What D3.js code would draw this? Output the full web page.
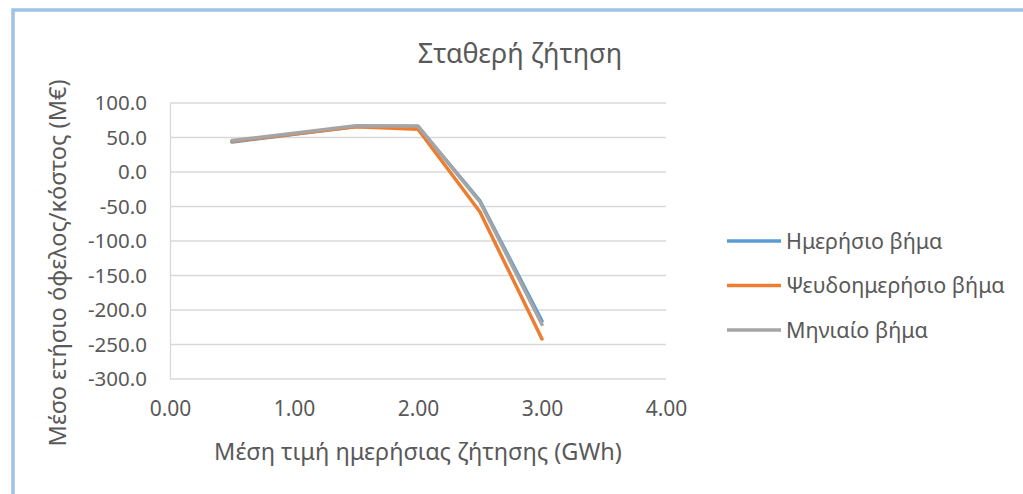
<!DOCTYPE html>
<html>
<head>
<meta charset="utf-8">
<script src="https://cdn.jsdelivr.net/npm/d3@7"></script>
<style>
  html, body { margin: 0; padding: 0; background: #fff; }
  svg { display: block; }
  text { font-family: "Noto Sans", "Open Sans", sans-serif; fill: #595959; }
</style>
</head>
<body>
<svg id="chart" width="1023" height="494"></svg>
<script>
// Average daily demand (GWh) at which each scenario was evaluated
const demand = [0.5, 1.5, 2.0, 2.5, 3.0];

// Mean annual benefit / cost (M€) per time-step scheme
const dailyStep = [43.5, 66, 66, -42, -216];
const pseudoDailyStep = [44.5, 65.5, 62, -58, -242];
const monthlyStep = [45.5, 67, 66.5, -43.5, -221];

const seriesNames = ["Ημερήσιο βήμα", "Ψευδοημερήσιο βήμα", "Μηνιαίο βήμα"];
const seriesColors = ["#5b9bd5", "#ed7d31", "#a5a5a5"];

const yTicks = [100, 50, 0, -50, -100, -150, -200, -250, -300];
const xTicks = [0, 1, 2, 3, 4];

const chartTitle = "Σταθερή ζήτηση";
const xTitle = "Μέση τιμή ημερήσιας ζήτησης (GWh)";
const yTitle = "Μέσο ετήσιο όφελος/κόστος (Μ€)";

const series = [dailyStep, pseudoDailyStep, monthlyStep].map((vals, i) => ({
  name: seriesNames[i],
  color: seriesColors[i],
  points: vals.map((v, j) => ({ x: demand[j], y: v }))
}));

// plain hyphen-minus for negative tick labels
const fmtY = d => d.toFixed(1);
const fmtX = d => d.toFixed(2);

const svg = d3.select("#chart");

// chart frame
svg.append("rect")
  .attr("x", 13).attr("y", 10)
  .attr("width", 1040).attr("height", 520)
  .attr("fill", "none")
  .attr("stroke", "#9dc3e6")
  .attr("stroke-width", 3.5);

const plot = { left: 170, right: 666, top: 103, bottom: 379 };

const x = d3.scaleLinear().domain([0, 4]).range([plot.left, plot.right]);
const y = d3.scaleLinear().domain([-300, 100]).range([plot.bottom, plot.top]);

// horizontal gridlines
svg.append("g")
  .selectAll("line")
  .data(yTicks)
  .join("line")
  .attr("x1", plot.left).attr("x2", plot.right)
  .attr("y1", d => y(d)).attr("y2", d => y(d))
  .attr("stroke", "#d9d9d9").attr("stroke-width", 1.3);

// value axis (left)
const yAxis = svg.append("g")
  .attr("transform", `translate(${plot.left},0)`)
  .call(d3.axisLeft(y).tickValues(yTicks).tickFormat(fmtY).tickSize(0).tickPadding(23));
yAxis.select(".domain").attr("stroke", "#d9d9d9").attr("stroke-width", 1.3);
yAxis.selectAll("text").style("font-size", "20.5px").attr("fill", "#595959");

// category axis (bottom)
const xAxis = svg.append("g")
  .attr("transform", `translate(0,${plot.bottom})`)
  .call(d3.axisBottom(x).tickValues(xTicks).tickFormat(fmtX).tickSize(0).tickPadding(22));
xAxis.select(".domain").remove();
xAxis.selectAll("text").style("font-size", "21px").attr("fill", "#595959");

// data lines
const line = d3.line().x(d => x(d.x)).y(d => y(d.y));
svg.append("g")
  .selectAll("path")
  .data(series)
  .join("path")
  .attr("d", d => line(d.points))
  .attr("fill", "none")
  .attr("stroke", d => d.color)
  .attr("stroke-width", 3.5)
  .attr("stroke-linejoin", "round")
  .attr("stroke-linecap", "round");

// titles
svg.append("text")
  .attr("x", 520).attr("y", 63)
  .attr("text-anchor", "middle")
  .style("font-size", "27px")
  .text(chartTitle);

svg.append("text")
  .attr("x", 418).attr("y", 452)
  .attr("dy", "0.35em")
  .attr("text-anchor", "middle")
  .style("font-size", "23.5px")
  .text(xTitle);

svg.append("text")
  .attr("transform", `translate(58,263) rotate(-90)`)
  .attr("dy", "0.35em")
  .attr("text-anchor", "middle")
  .style("font-size", "23.5px")
  .text(yTitle);

// legend
const legend = svg.append("g")
  .selectAll("g")
  .data(series)
  .join("g")
  .attr("transform", (d, i) => `translate(727,${241 + i * 44.5})`);
legend.append("line")
  .attr("x1", 0).attr("x2", 54)
  .attr("stroke", d => d.color)
  .attr("stroke-width", 3.5);
legend.append("text")
  .attr("x", 59).attr("dy", "0.35em")
  .style("font-size", "21.5px")
  .text(d => d.name);
</script>
</body>
</html>
